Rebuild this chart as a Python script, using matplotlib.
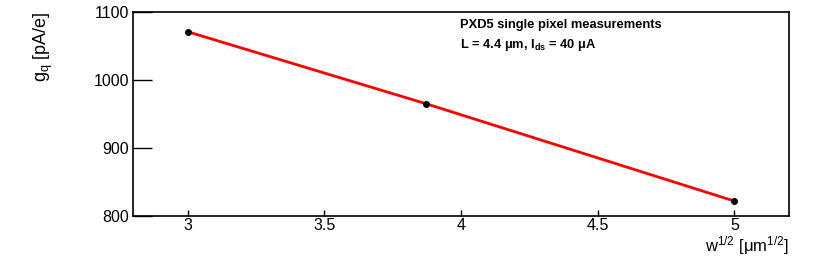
import numpy as np
import matplotlib.pyplot as plt

plt.rcParams['font.family'] = ['Liberation Sans', 'DejaVu Sans']
plt.rcParams['mathtext.fontset'] = 'custom'
plt.rcParams['mathtext.rm'] = 'Liberation Sans'
plt.rcParams['mathtext.it'] = 'Liberation Sans'
plt.rcParams['mathtext.bf'] = 'Liberation Sans:bold'

# data
sqrt_w = [3.0, 3.873, 5.0]
gq = [1071, 965, 822]
xticks = [3, 3.5, 4, 4.5, 5]
yticks = [800, 900, 1000, 1100]

fig = plt.figure(figsize=(8.3, 2.58), dpi=100)
ax = fig.add_axes([133/830, 1 - 216/258, (789-133)/830, (216-12)/258])

ax.plot(sqrt_w, gq, color='red', lw=2, zorder=2)
ax.plot(sqrt_w, gq, 'o', color='black', ms=4, zorder=3)

ax.set_xlim(2.8, 5.2)
ax.set_ylim(800, 1100)
ax.set_xticks(xticks)
ax.set_xticklabels(['3', '3.5', '4', '4.5', '5'])
ax.set_yticks(yticks)
ax.set_yticklabels(['800', '900', '1000', '1100'])
ax.tick_params(axis='x', direction='in', length=4.3, width=1, labelsize=11.5, pad=1.5)
ax.tick_params(axis='y', direction='in', length=13.7, width=1, labelsize=11.5, pad=3)
for s in ax.spines.values():
    s.set_linewidth(1.2)

ax.text(327/656, 1 - 13/204, 'PXD5 single pixel measurements', transform=ax.transAxes,
        fontsize=9.3, fontweight='bold', va='center', ha='left')
ax.text(327/656, 1 - 33/204, r'L = 4.4 $\mathbf{\mu}$m, I$_{\mathbf{ds}}$ = 40 $\mathbf{\mu}$A',
        transform=ax.transAxes, fontsize=9.3, fontweight='bold', va='center', ha='left')

fig.text(789/830, 1 - 246/258, r'w$^{1/2}$ [$\mu$m$^{1/2}$]', fontsize=12,
         ha='right', va='center')
fig.text(43/830, 1 - 12/258, r'g$_{q}$ [pA/e]', fontsize=13, rotation=90,
         ha='center', va='top')

fig.savefig('out.png', dpi=100)
